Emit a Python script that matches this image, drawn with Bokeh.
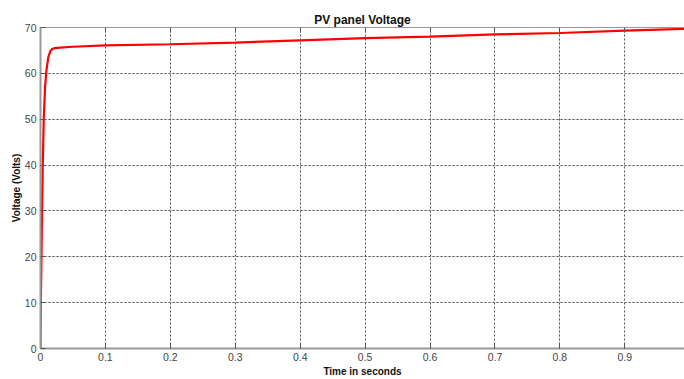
from bokeh.plotting import figure
from bokeh.models import FixedTicker, LinearAxis, Range1d, Grid
from bokeh.embed import file_html
from bokeh.resources import INLINE

# --- data ---
time_s = [0, 0.0003, 0.0008, 0.0015, 0.0025, 0.0035, 0.005, 0.007, 0.009, 0.012,
          0.015, 0.018, 0.022, 0.03, 0.05, 0.1, 0.2, 0.3, 0.4, 0.5, 0.6, 0.7,
          0.8, 0.9, 0.992]
voltage = [0, 6, 13, 20, 31, 40, 50, 57, 60.5, 63.5, 64.8, 65.3, 65.5, 65.6,
           65.8, 66.1, 66.35, 66.7, 67.2, 67.7, 68.0, 68.5, 68.8, 69.3, 69.7]

x_ticks = [0, 0.1, 0.2, 0.3, 0.4, 0.5, 0.6, 0.7, 0.8, 0.9]
x_tick_labels = ["0", "0.1", "0.2", "0.3", "0.4", "0.5", "0.6", "0.7", "0.8", "0.9"]
y_ticks = [0, 10, 20, 30, 40, 50, 60, 70]
y_tick_labels = ["0", "10", "20", "30", "40", "50", "60", "70"]

title_text = "PV panel Voltage"
x_label = "Time in seconds"
y_label = "Voltage (Volts)"

FONT = "Liberation Sans"

p = figure(width=684, height=379, output_backend="svg", toolbar_location=None,
           x_range=Range1d(0, 0.992), y_range=Range1d(0, 70),
           min_border_left=40, min_border_right=0, min_border_top=27,
           min_border_bottom=29, x_axis_location=None, y_axis_location=None)
p.background_fill_color = "white"
p.border_fill_color = "white"
p.outline_line_color = None

# axes
xa = LinearAxis(axis_label=x_label)
xa.ticker = FixedTicker(ticks=x_ticks)
xa.major_label_overrides = {t: l for t, l in zip(x_ticks, x_tick_labels)}
ya = LinearAxis(axis_label=y_label)
ya.ticker = FixedTicker(ticks=y_ticks)
ya.major_label_overrides = {t: l for t, l in zip(y_ticks, y_tick_labels)}
for ax in (xa, ya):
    ax.axis_line_color = "#999999"
    ax.axis_line_width = 2
    ax.major_tick_line_color = "#555555"
    ax.major_tick_in = 5
    ax.major_tick_out = 0
    ax.minor_tick_line_color = None
    ax.major_label_text_font = FONT
    ax.major_label_text_font_size = "10.5px"
    ax.major_label_text_color = "#444444"
    ax.axis_label_text_font = FONT
    ax.axis_label_text_font_size = "10px"
    ax.axis_label_text_font_style = "bold"
    ax.axis_label_text_color = "#111111"
xa.major_label_standoff = 4
xa.axis_label_standoff = 2
ya.major_label_standoff = 4
ya.axis_label_standoff = 0
p.add_layout(xa, "below")
p.add_layout(ya, "left")

top = LinearAxis()
top.ticker = FixedTicker(ticks=x_ticks)
top.major_label_text_font_size = "1px"
top.major_label_text_color = None
top.major_label_standoff = 0
top.axis_line_color = "#999999"
top.major_tick_line_color = "#555555"
top.major_tick_in = 5
top.major_tick_out = 0
top.minor_tick_line_color = None
p.add_layout(top, "above")

# grid
gx = Grid(dimension=0, ticker=FixedTicker(ticks=x_ticks[1:]))
gy = Grid(dimension=1, ticker=FixedTicker(ticks=y_ticks[1:-1]))
for g in (gx, gy):
    g.grid_line_color = "#555555"
    g.grid_line_dash = "2 2"
    g.grid_line_width = 1
    p.add_layout(g)

p.line(time_s, voltage, line_color="#ff0000", line_width=2.2)

p.title.text = title_text
p.title.align = "center"
p.title.text_font = FONT
p.title.text_font_size = "12px"
p.title.text_font_style = "bold"
p.title.text_color = "#111111"
p.title.standoff = 2

open("out.html", "w").write(file_html(p, INLINE))
